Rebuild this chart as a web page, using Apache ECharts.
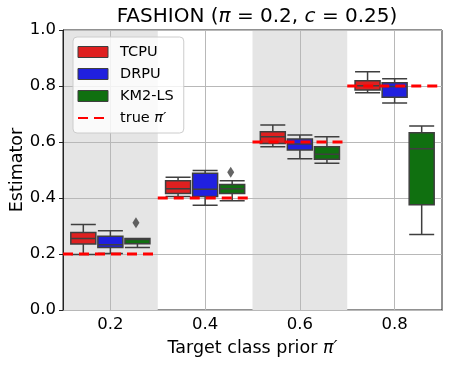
<!DOCTYPE html>
<html>
<head>
<meta charset="utf-8">
<script src="https://cdn.jsdelivr.net/npm/echarts@6/dist/echarts.min.js"></script>
<style>html,body{margin:0;padding:0;background:#fff}#main{width:449px;height:366px}</style>
</head>
<body>
<div id="main"></div>
<script>
var priors = ['0.2', '0.4', '0.6', '0.8'];
var truePrior = [0.2, 0.4, 0.6, 0.8];
// each box: [low whisker, Q1, median, Q3, high whisker]
var tcpu = [
  [0.198, 0.236, 0.255, 0.277, 0.305],
  [0.405, 0.416, 0.433, 0.462, 0.474],
  [0.583, 0.595, 0.619, 0.637, 0.661],
  [0.776, 0.786, 0.801, 0.819, 0.851]
];
var drpu = [
  [0.202, 0.223, 0.233, 0.263, 0.283],
  [0.374, 0.405, 0.431, 0.488, 0.498],
  [0.540, 0.571, 0.593, 0.611, 0.625],
  [0.739, 0.760, 0.798, 0.812, 0.826]
];
var km2ls = [
  [0.223, 0.237, 0.252, 0.255, 0.255],
  [0.390, 0.416, 0.433, 0.448, 0.462],
  [0.524, 0.538, 0.556, 0.583, 0.619],
  [0.270, 0.376, 0.576, 0.633, 0.657]
];
// outliers: [category index, value]
var km2lsOutliers = [[0, 0.312], [1, 0.492]];

var font = 'DejaVu Sans';
var edge = '#3f3f3f';
var colors = { TCPU: '#df2020', DRPU: '#2020df', 'KM2-LS': '#107010' };

var chart = echarts.init(document.getElementById('main'));

// dashed "true prior" segments, one per category band on the hidden value axis
var trueLine = [];
truePrior.forEach(function (v, i) {
  trueLine.push([i, v], [i + 1, v]);
  if (i < truePrior.length - 1) trueLine.push([i + 1, '-']);
});

var outlierPts = km2lsOutliers.map(function (d) {
  return [d[0] + 0.5 + 0.27, d[1]];
});

function boxSeries(name, data) {
  return {
    name: name,
    type: 'boxplot',
    xAxisIndex: 0,
    data: data,
    boxWidth: [25, 25],
    itemStyle: { color: colors[name], borderColor: edge, borderWidth: 1.5 },
    emphasis: { disabled: true },
    z: 3
  };
}

function legendBox(name) {
  return { name: name, icon: 'rect', itemStyle: { color: colors[name], borderColor: edge, borderWidth: 1 } };
}

var option = {
  animation: false,
  textStyle: { fontFamily: font },
  title: {
    text: 'FASHION ({i|π} = 0.2, {i|c} = 0.25)',
    left: 252,
    textAlign: 'center',
    top: 2,
    textStyle: {
      fontFamily: font, fontSize: 20, fontWeight: 'normal', color: '#000',
      rich: { i: { fontFamily: font, fontSize: 20, fontStyle: 'italic', color: '#000' } }
    }
  },
  legend: {
    orient: 'vertical',
    left: 73,
    top: 37,
    itemWidth: 30,
    itemHeight: 11,
    itemGap: 6,
    padding: [7, 10, 7, 4],
    backgroundColor: 'rgba(255,255,255,0.8)',
    borderColor: '#cccccc',
    borderWidth: 1,
    borderRadius: 4,
    data: [
      legendBox('TCPU'),
      legendBox('DRPU'),
      legendBox('KM2-LS'),
      { name: 'true π′', itemStyle: { opacity: 0 } }
    ],
    formatter: function (name) {
      return name === 'true π′' ? 'true {i|π′}' : name;
    },
    textStyle: {
      fontFamily: font, fontSize: 14.5, color: '#000', lineHeight: 16, padding: [0, 0, 0, 7],
      rich: { i: { fontFamily: font, fontSize: 14.5, fontStyle: 'italic', color: '#000' } }
    }
  },
  grid: {
    left: 63, right: 7, top: 30, bottom: 56,
    outerBoundsMode: 'none',
    containLabel: false,
    show: true, borderColor: '#222', borderWidth: 1, backgroundColor: 'transparent'
  },
  xAxis: [{
    type: 'category',
    data: priors,
    boundaryGap: true,
    name: 'Target class prior {i|π′}',
    nameLocation: 'middle',
    nameGap: 29,
    nameMoveOverlap: false,
    nameTextStyle: {
      fontFamily: font, fontSize: 17.5, color: '#000',
      rich: { i: { fontFamily: font, fontSize: 17.5, fontStyle: 'italic', color: '#000' } }
    },
    axisLine: { lineStyle: { color: '#222' } },
    axisTick: { alignWithLabel: true, length: 4, lineStyle: { color: '#222' } },
    axisLabel: { fontFamily: font, fontSize: 16.5, color: '#000', margin: 6 },
    splitLine: { show: true, alignWithLabel: true, lineStyle: { color: '#b8b8b8', width: 1 } },
    splitArea: { show: true, areaStyle: { color: ['#e5e5e5', 'rgba(255,255,255,0)'] } }
  }, {
    type: 'value',
    min: 0,
    max: 4,
    show: false
  }],
  yAxis: {
    type: 'value',
    min: 0,
    max: 1,
    interval: 0.2,
    z: 1,
    name: 'Estimator',
    nameLocation: 'middle',
    nameGap: 37,
    nameMoveOverlap: false,
    nameTextStyle: { fontFamily: font, fontSize: 17.5, color: '#000' },
    axisLine: { show: true, lineStyle: { color: '#222' } },
    axisTick: { show: true, length: 4, lineStyle: { color: '#222' } },
    axisLabel: {
      fontFamily: font, fontSize: 16.5, color: '#000', margin: 7,
      formatter: function (v) { return v.toFixed(1); }
    },
    splitLine: { show: true, lineStyle: { color: '#b8b8b8', width: 1 } }
  },
  series: [
    boxSeries('TCPU', tcpu),
    boxSeries('DRPU', drpu),
    boxSeries('KM2-LS', km2ls),
    {
      name: 'KM2-LS outliers',
      type: 'scatter',
      xAxisIndex: 1,
      data: outlierPts,
      symbol: 'diamond',
      symbolSize: [7, 11],
      itemStyle: { color: '#3f3f3f' },
      z: 4
    },
    {
      name: 'true π′',
      type: 'line',
      xAxisIndex: 1,
      data: trueLine,
      showSymbol: false,
      symbol: 'none',
      connectNulls: false,
      lineStyle: { color: '#ff0000', width: 3, type: [10, 6] },
      itemStyle: { color: '#ff0000' },
      z: 5
    }
  ]
};

chart.setOption(option);
</script>
</body>
</html>
